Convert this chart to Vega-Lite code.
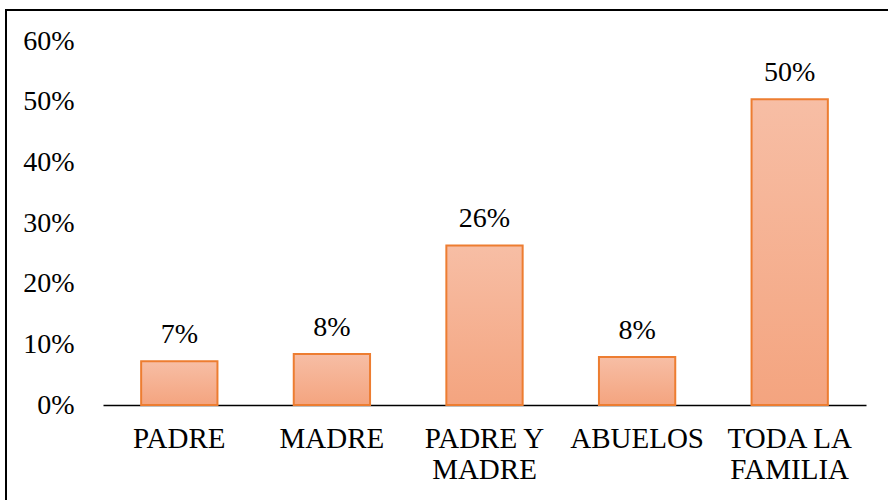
{
  "$schema": "https://vega.github.io/schema/vega-lite/v6.json",
  "autosize": {"type": "none"},
  "padding": {"left": 6, "top": 10, "right": 0, "bottom": 0},
  "width": 890,
  "height": 500,
  "background": "white",
  "config": {
    "view": {"stroke": "black", "strokeWidth": 2},
    "font": "Liberation Serif",
    "text": {"font": "Liberation Serif"},
    "axis": {"labelFont": "Liberation Serif"}
  },
  "data": {
    "values": [
      {"categoria": "PADRE", "porcentaje": 0.072},
      {"categoria": "MADRE", "porcentaje": 0.084},
      {"categoria": "PADRE Y MADRE", "porcentaje": 0.263},
      {"categoria": "ABUELOS", "porcentaje": 0.079},
      {"categoria": "TODA LA FAMILIA", "porcentaje": 0.504}
    ]
  },
  "encoding": {
    "x": {
      "field": "categoria",
      "type": "nominal",
      "sort": null,
      "scale": {"range": [97, 860], "paddingInner": 0.5, "paddingOuter": 0.25},
      "axis": {
        "title": null,
        "offset": -105,
        "labelAngle": 0,
        "ticks": false,
        "domainColor": "black",
        "domainWidth": 1.5,
        "labelFont": "Liberation Serif",
        "labelFontSize": 29,
        "labelColor": "black",
        "labelPadding": 19,
        "labelLineHeight": 31,
        "labelBaseline": "top",
        "labelExpr": "datum.value == 'PADRE Y MADRE' ? ['PADRE Y', 'MADRE'] : datum.value == 'TODA LA FAMILIA' ? ['TODA LA', 'FAMILIA'] : datum.value"
      }
    },
    "y": {
      "field": "porcentaje",
      "type": "quantitative",
      "scale": {"domain": [0, 0.6], "range": [395, 31], "nice": false},
      "axis": {
        "title": null,
        "format": ".0%",
        "values": [0, 0.1, 0.2, 0.3, 0.4, 0.5, 0.6],
        "labelOverlap": false,
        "offset": -68,
        "domain": false,
        "ticks": false,
        "grid": false,
        "labelPadding": 0,
        "labelFont": "Liberation Serif",
        "labelFontSize": 28,
        "labelColor": "black"
      }
    }
  },
  "layer": [
    {
      "mark": {
        "type": "bar",
        "stroke": "#ED7D31",
        "strokeWidth": 2,
        "color": {
          "gradient": "linear",
          "x1": 0, "y1": 0, "x2": 0, "y2": 1,
          "stops": [
            {"offset": 0, "color": "#F7BEA5"},
            {"offset": 1, "color": "#F4A47F"}
          ]
        }
      }
    },
    {
      "mark": {
        "type": "text",
        "dy": -26,
        "font": "Liberation Serif",
        "fontSize": 28,
        "color": "black"
      },
      "encoding": {
        "text": {"field": "porcentaje", "type": "quantitative", "format": ".0%"}
      }
    }
  ]
}
